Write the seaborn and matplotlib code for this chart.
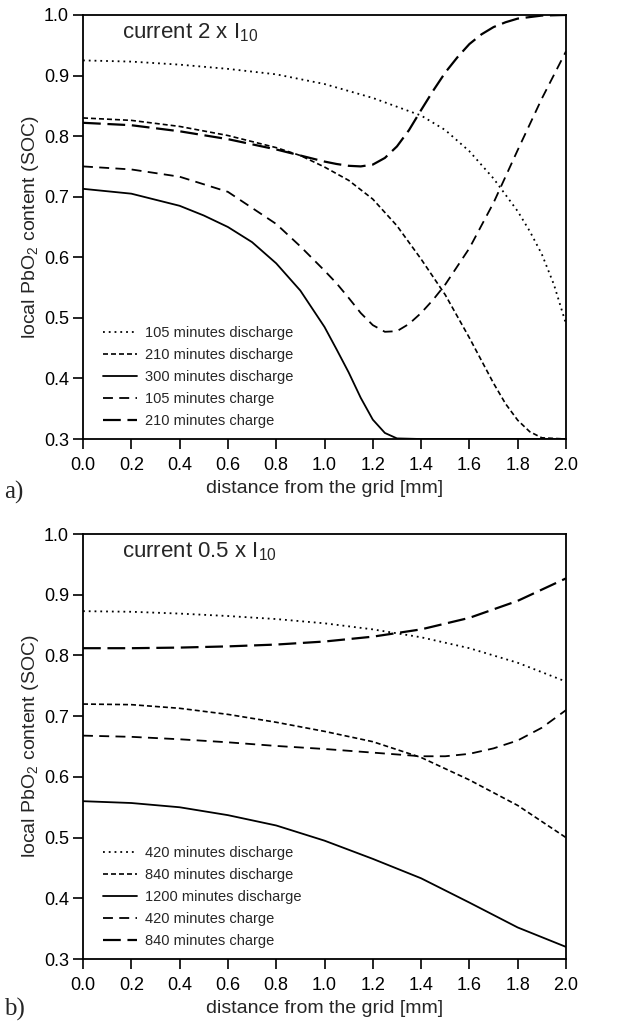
import numpy as np
import pandas as pd
import matplotlib
matplotlib.use("Agg")
import matplotlib.pyplot as plt
import seaborn as sns

# ---- panel a: current 2 x I10 ----
a_x_dis105 = [0.0, 0.2, 0.4, 0.6, 0.8, 1.0, 1.2, 1.4, 1.5, 1.6, 1.7, 1.8, 1.85, 1.9, 1.95, 2.0]
a_y_dis105 = [0.925, 0.923, 0.918, 0.911, 0.902, 0.886, 0.863, 0.834, 0.81, 0.775, 0.73, 0.676, 0.643, 0.605, 0.555, 0.49]

a_x_dis210 = [0.0, 0.2, 0.4, 0.6, 0.8, 0.9, 1.0, 1.1, 1.2, 1.3, 1.4, 1.5, 1.6, 1.7, 1.75, 1.8, 1.85, 1.9, 2.0]
a_y_dis210 = [0.83, 0.826, 0.816, 0.801, 0.781, 0.768, 0.749, 0.727, 0.696, 0.652, 0.597, 0.538, 0.467, 0.392, 0.358, 0.331, 0.312, 0.302, 0.3]

a_x_dis300 = [0.0, 0.2, 0.4, 0.5, 0.6, 0.7, 0.8, 0.9, 1.0, 1.05, 1.1, 1.15, 1.2, 1.25, 1.3, 1.4, 2.0]
a_y_dis300 = [0.713, 0.705, 0.685, 0.669, 0.65, 0.625, 0.59, 0.545, 0.485, 0.448, 0.41, 0.368, 0.332, 0.31, 0.301, 0.3, 0.3]

a_x_chg105 = [0.0, 0.2, 0.4, 0.6, 0.8, 0.9, 1.0, 1.05, 1.1, 1.15, 1.2, 1.25, 1.3, 1.35, 1.4, 1.45,
              1.5, 1.6, 1.7, 1.8, 1.9, 2.0]
a_y_chg105 = [0.75, 0.745, 0.733, 0.708, 0.655, 0.618, 0.578, 0.557, 0.533, 0.508, 0.488, 0.477, 0.478, 0.49, 0.508, 0.53,
              0.555, 0.615, 0.69, 0.777, 0.862, 0.94]

a_x_chg210 = [0.0, 0.2, 0.4, 0.6, 0.8, 0.9, 1.0, 1.05, 1.1, 1.15, 1.2, 1.25, 1.3, 1.35, 1.4, 1.45,
              1.5, 1.55, 1.6, 1.65, 1.7, 1.75, 1.8, 1.9, 2.0]
a_y_chg210 = [0.822, 0.818, 0.808, 0.795, 0.778, 0.768, 0.758, 0.754, 0.751, 0.75, 0.753, 0.764, 0.783, 0.81, 0.843, 0.875,
              0.905, 0.93, 0.952, 0.968, 0.98, 0.988, 0.994, 0.999, 1.0]

# ---- panel b: current 0.5 x I10 ----
b_x = [0.0, 0.2, 0.4, 0.6, 0.8, 1.0, 1.2, 1.4, 1.6, 1.8, 2.0]
b_y_dis420 = [0.873, 0.872, 0.869, 0.865, 0.86, 0.853, 0.843, 0.83, 0.812, 0.788, 0.757]
b_y_dis840 = [0.72, 0.719, 0.713, 0.703, 0.69, 0.675, 0.658, 0.632, 0.595, 0.553, 0.5]
b_y_dis1200 = [0.56, 0.557, 0.55, 0.537, 0.52, 0.495, 0.465, 0.433, 0.393, 0.352, 0.32]

b_x_chg420 = [0.0, 0.2, 0.4, 0.6, 0.8, 1.0, 1.2, 1.4, 1.5, 1.6, 1.7, 1.8, 1.9, 2.0]
b_y_chg420 = [0.668, 0.666, 0.662, 0.657, 0.651, 0.646, 0.64, 0.634, 0.634, 0.638, 0.647, 0.66, 0.681, 0.71]
b_y_chg840 = [0.812, 0.812, 0.813, 0.815, 0.818, 0.823, 0.831, 0.843, 0.862, 0.89, 0.927]

panel_a = [
    ("105 minutes discharge", a_x_dis105, a_y_dis105),
    ("210 minutes discharge", a_x_dis210, a_y_dis210),
    ("300 minutes discharge", a_x_dis300, a_y_dis300),
    ("105 minutes charge", a_x_chg105, a_y_chg105),
    ("210 minutes charge", a_x_chg210, a_y_chg210),
]
panel_b = [
    ("420 minutes discharge", b_x, b_y_dis420),
    ("840 minutes discharge", b_x, b_y_dis840),
    ("1200 minutes discharge", b_x, b_y_dis1200),
    ("420 minutes charge", b_x_chg420, b_y_chg420),
    ("840 minutes charge", b_x, b_y_chg840),
]

# dotted, short dash, solid, medium dash, long dash
line_styles = [(0, (1, 2.2)), (0, (3, 1.8)), "-", (0, (5.5, 3.5)), (0, (8, 3))]
line_widths = [1.3, 1.2, 1.3, 1.3, 1.6]

sns.set_style("ticks")
plt.rcParams["font.family"] = ["Liberation Sans", "DejaVu Sans"]
plt.rcParams["mathtext.fontset"] = "custom"
plt.rcParams["mathtext.rm"] = "Liberation Sans"

fig = plt.figure(figsize=(6.25, 10.32), dpi=100)
ax_a = fig.add_axes([0.1328, 0.5746, 0.7728, 0.4109])
ax_b = fig.add_axes([0.1328, 0.0707, 0.7728, 0.4118])


def draw_panel(ax, series, title):
    for (label, xs, ys), ls, lw in zip(series, line_styles, line_widths):
        df = pd.DataFrame({"x": xs, "y": ys})
        sns.lineplot(data=df, x="x", y="y", ax=ax, color="black",
                     linestyle=ls, linewidth=lw, label=label, sort=False)

    ax.set_xlim(0, 2.0)
    ax.set_ylim(0.3, 1.0)
    ax.set_xticks(np.arange(0, 2.01, 0.2))
    ax.set_yticks(np.arange(0.3, 1.01, 0.1))
    ax.xaxis.set_major_formatter(matplotlib.ticker.FormatStrFormatter("%.1f"))
    ax.yaxis.set_major_formatter(matplotlib.ticker.FormatStrFormatter("%.1f"))
    ax.tick_params(direction="out", length=7, width=1.2, labelsize=13, colors="black")
    ax.tick_params(axis="x", pad=6)
    ax.tick_params(axis="y", pad=3)
    for sp in ax.spines.values():
        sp.set_linewidth(1.3)
        sp.set_color("black")

    ax.set_xlabel("distance from the grid [mm]", fontsize=14, labelpad=4)
    ax.set_ylabel(r"local PbO$_{\mathregular{2}}$ content (SOC)", fontsize=14, labelpad=2)
    ax.text(0.08, 0.958, title, transform=ax.transAxes, fontsize=16, va="center", ha="left")

    ax.legend(loc="lower left", bbox_to_anchor=(0.015, -0.005), frameon=False,
              fontsize=10.5, handlelength=2.3, handletextpad=0.55, labelspacing=0.55)


draw_panel(ax_a, panel_a, r"current 2 x I$_{\mathregular{10}}$")
draw_panel(ax_b, panel_b, r"current 0.5 x I$_{\mathregular{10}}$")

fig.text(0.006, 0.523, "a)", fontsize=18, family=["Liberation Serif", "DejaVu Serif"], va="center")
fig.text(0.006, 0.0215, "b)", fontsize=18, family=["Liberation Serif", "DejaVu Serif"], va="center")

fig.savefig("out.png", dpi=100, facecolor="white")
